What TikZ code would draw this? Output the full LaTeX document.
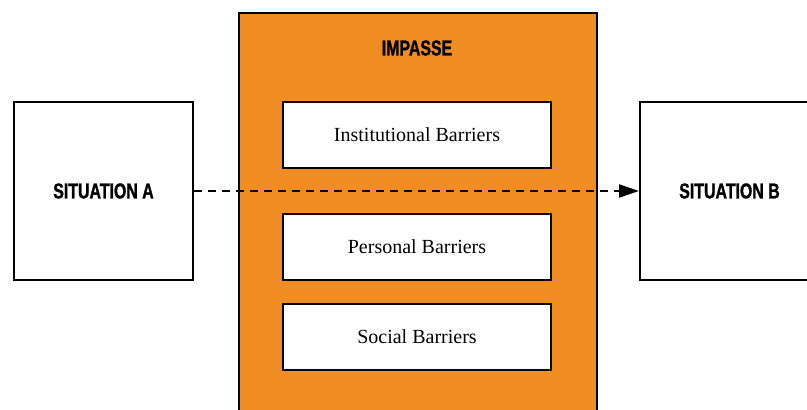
\documentclass[tikz,border=0pt]{standalone}
\usepackage{fontspec}
\setmainfont{Liberation Serif}
\newfontfamily\headfont[FakeStretch=0.74,BoldFeatures={FakeBold=1.2}]{Liberation Sans}
\usetikzlibrary{arrows.meta}
\definecolor{impasseorange}{RGB}{239,140,34}

\begin{document}
\begin{tikzpicture}[x=1pt,y=-1pt,
	headtext/.style={font=\headfont\bfseries\fontsize{21.5}{24}\selectfont},
	sitbox/.style={draw,line width=2pt,fill=white,minimum width=179pt,minimum height=178pt,headtext},
	barrier/.style={draw,line width=2pt,fill=white,minimum width=268pt,minimum height=66pt,font=\fontsize{20}{24}\selectfont}]
		\useasboundingbox (0,0) rectangle (807,410);
		\clip (0,0) rectangle (807,410);
		\node[draw,line width=2pt,fill=impasseorange,minimum width=358pt,minimum height=420pt,anchor=north west] (impasse) at (238,12) {};
		\node[headtext] (title) at (417,48) {IMPASSE};
		\node[barrier] (inst) at (417,135) {Institutional Barriers};
		\node[barrier] (pers) at (417,246.5) {Personal Barriers};
		\node[barrier] (soc) at (417,336.5) {Social Barriers};
		\node[sitbox] (sitA) at (103.5,191) {SITUATION A};
		\node[sitbox] (sitB) at (729.5,191) {SITUATION B};
		\draw[line width=2pt,dash pattern=on 8pt off 6pt,-{Triangle[length=20pt,width=13pt]}](sitA)--(sitB);
	    \end{tikzpicture}
\end{document}
